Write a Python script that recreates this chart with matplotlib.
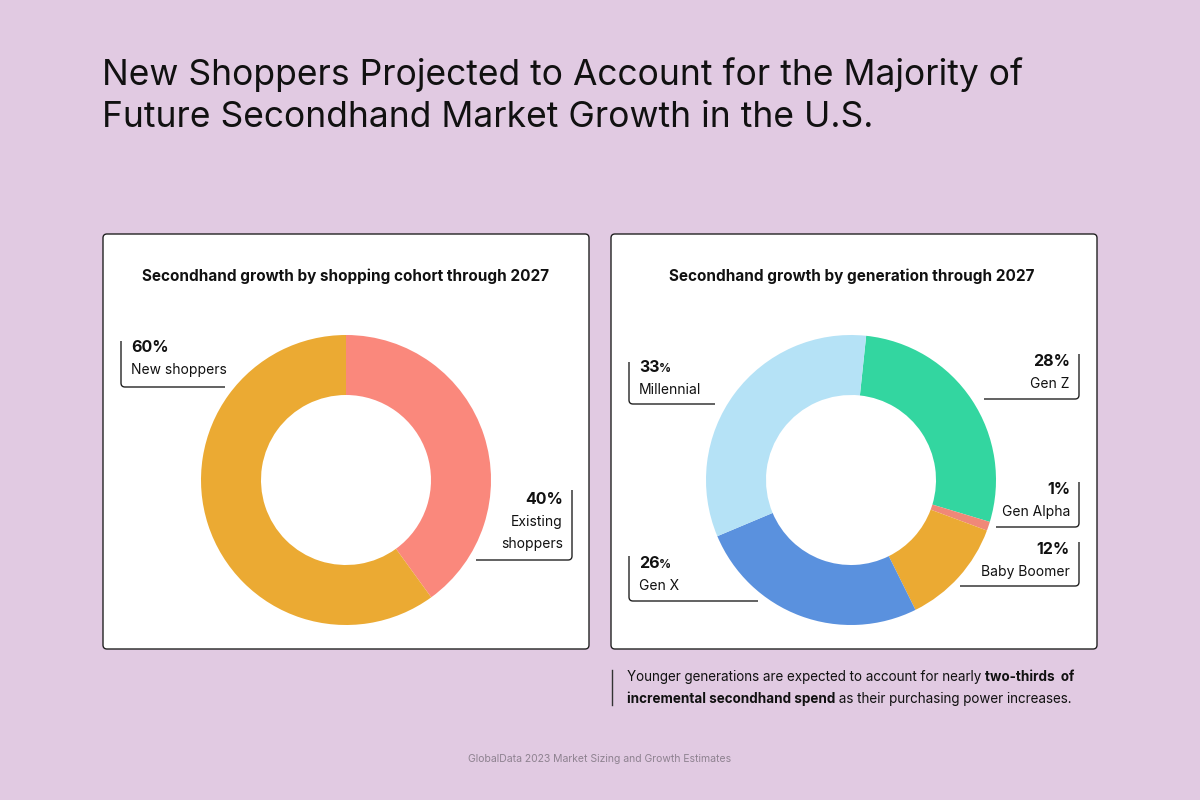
import numpy as np
import matplotlib.pyplot as plt
from matplotlib.patches import FancyBboxPatch
from matplotlib.path import Path
from matplotlib.patches import PathPatch

plt.rcParams['font.family'] = ['Inter', 'DejaVu Sans']

# data
cohort_labels = ['Existing shoppers', 'New shoppers']
cohort_values = [40, 60]
cohort_colors = ['#FA887C', '#EBAA33']

gen_labels = ['Gen Z', 'Gen Alpha', 'Baby Boomer', 'Gen X', 'Millennial']
gen_values = [28, 1, 12, 26, 33]
gen_colors = ['#33D6A0', '#F08878', '#EBAA33', '#5A91DE', '#B5E2F6']

title_lines = ['New Shoppers Projected to Account for the Majority of',
               'Future Secondhand Market Growth in the U.S.']
left_title = 'Secondhand growth by shopping cohort through 2027'
right_title = 'Secondhand growth by generation through 2027'
source = 'GlobalData 2023 Market Sizing and Growth Estimates'

BG = '#E1CAE2'
INK = '#111111'
W, H = 1200, 800

fig = plt.figure(figsize=(12, 8), dpi=100, facecolor=BG)
base = fig.add_axes([0, 0, 1, 1])
base.set_xlim(0, W)
base.set_ylim(H, 0)
base.axis('off')

for i, line in enumerate(title_lines):
    base.text(102, 85 + 42 * i, line, fontsize=25.5, color=INK, va='baseline', ha='left')

# panels
for x0 in (103, 611):
    box = FancyBboxPatch((x0, 234), 486, 415, boxstyle='round,pad=0,rounding_size=4',
                         facecolor='white', edgecolor='#222222', linewidth=1.0)
    base.add_patch(box)

base.text(346, 276, left_title, fontsize=11, fontweight='bold', ha='center', va='center', color=INK)
base.text(852, 276, right_title, fontsize=11, fontweight='bold', ha='center', va='center', color=INK)


def donut(cx, cy, values, colors, start):
    r = 145
    ax = fig.add_axes([(cx - r) / W, 1 - (cy + r) / H, 2 * r / W, 2 * r / H])
    ax.pie(values, colors=colors, startangle=start, counterclock=False,
           wedgeprops=dict(width=60 / 145, linewidth=0))
    ax.set_xlim(-1, 1)
    ax.set_ylim(-1, 1)
    ax.set_aspect('equal')
    ax.axis('off')


donut(346, 480, cohort_values, cohort_colors, 90)
donut(851, 480, gen_values, gen_colors, 84)


def bracket(xv, y_top, y_bot, x_end):
    # vertical line, small rounded corner, horizontal line
    rr = 4
    d = 1 if x_end > xv else -1
    verts = [(xv, y_top), (xv, y_bot - rr), (xv, y_bot), (xv + d * rr, y_bot), (x_end, y_bot)]
    codes = [Path.MOVETO, Path.LINETO, Path.CURVE3, Path.CURVE3, Path.LINETO]
    base.add_patch(PathPatch(Path(verts, codes), fill=False, edgecolor='#222222', linewidth=1.0,
                             zorder=5))


def callout(side, xv, y_top, y_bot, x_end, pct, lines, y_pct, small_pct=False):
    bracket(xv, y_top, y_bot, x_end)
    if side == 'left':
        tx, ha = xv + 10, 'left'
    else:
        tx, ha = xv - 9, 'right'
    if small_pct:
        num = pct.rstrip('%')
        t = base.text(tx, y_pct, num, fontsize=11.5, fontweight='bold', ha=ha, va='center', color=INK)
        fig.canvas.draw()
        bb = t.get_window_extent()
        base.text(tx + bb.width - 1, y_pct + 1.5, '%', fontsize=8.5, fontweight='bold', ha='left',
                  va='center', color=INK)
    else:
        base.text(tx, y_pct, pct, fontsize=11.5, fontweight='bold', ha=ha, va='center', color=INK)
    for i, s in enumerate(lines):
        base.text(tx, y_pct + 22 * (i + 1), s, fontsize=10, ha=ha, va='center', color=INK)


callout('left', 121, 341, 387, 225, '60%', ['New shoppers'], 348)
callout('right', 572, 490, 560, 476, '40%', ['Existing', 'shoppers'], 500)

callout('left', 629, 362, 404, 715, '33%', ['Millennial'], 368, small_pct=True)
callout('right', 1079, 354, 399, 984, '28%', ['Gen Z'], 362)
callout('right', 1079, 482, 527, 996, '1%', ['Gen Alpha'], 490)
callout('right', 1079, 542, 586, 960, '12%', ['Baby Boomer'], 550)
callout('left', 629, 556, 601, 758, '26%', ['Gen X'], 564, small_pct=True)

# note with mixed bold text
base.plot([612, 612], [670, 705], color='#333333', linewidth=1.0)
note_lines = [
    [('Younger generations are expected to account for nearly ', 'normal'), ('two-thirds  of', 'bold')],
    [('incremental secondhand spend', 'bold'), (' as their purchasing power increases.', 'normal')],
]
fig.canvas.draw()
for i, parts in enumerate(note_lines):
    x = 627
    y = 677 + 22 * i
    for s, wt in parts:
        t = base.text(x, y, s, fontsize=9.7, fontweight=wt, ha='left', va='center', color=INK)
        fig.canvas.draw()
        x += t.get_window_extent().width

base.text(600, 759, source, fontsize=7.5, color='#8E8290', ha='center', va='center')

fig.savefig('out.png', dpi=100, facecolor=BG)
